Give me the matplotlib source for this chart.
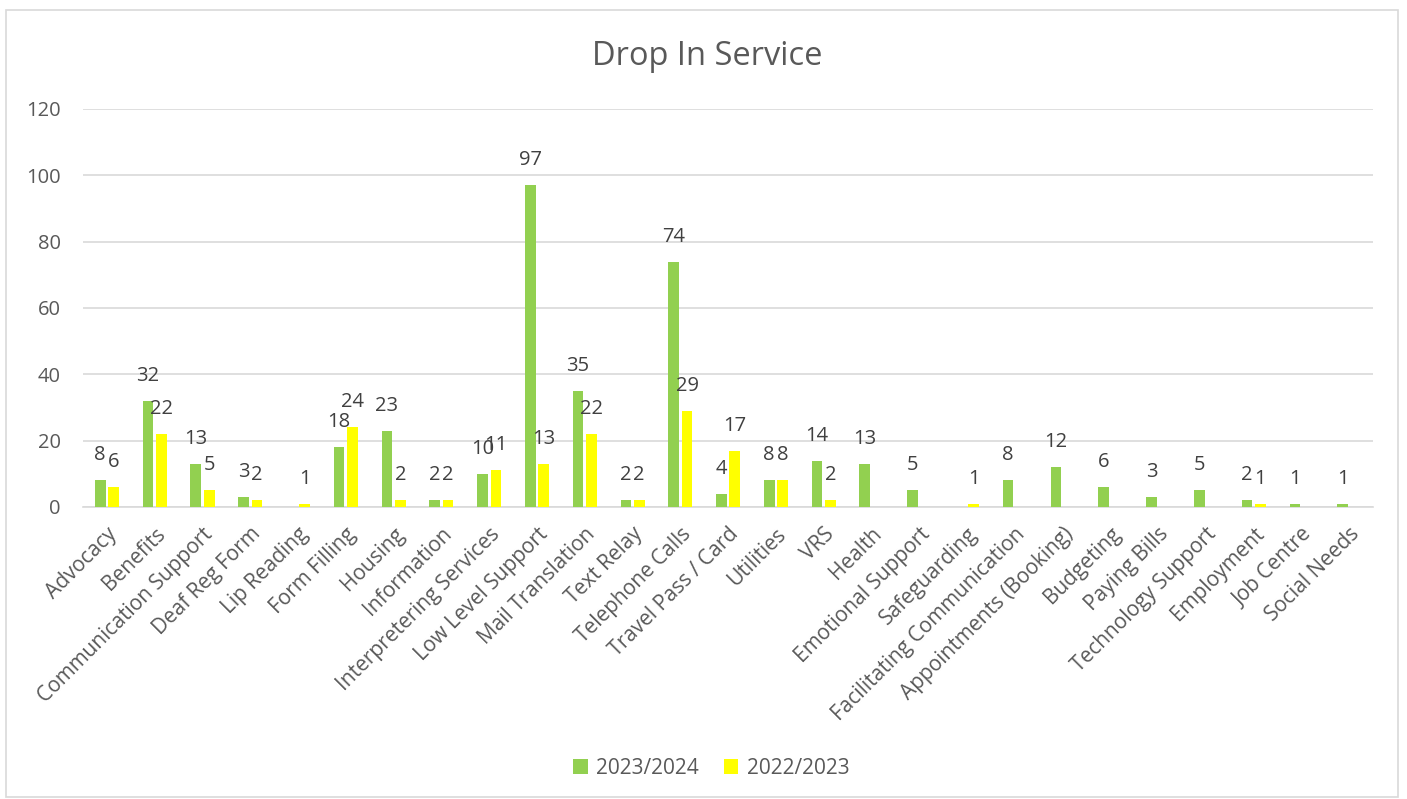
import numpy as np
import matplotlib
matplotlib.use("Agg")
import matplotlib.pyplot as plt
from matplotlib.patches import Rectangle

categories = [
    "Advocacy", "Benefits", "Communication Support", "Deaf Reg Form", "Lip Reading",
    "Form Filling", "Housing", "Information", "Interpretering Services",
    "Low Level Support", "Mail Translation", "Text Relay", "Telephone Calls",
    "Travel Pass / Card", "Utilities", "VRS", "Health", "Emotional Support",
    "Safeguarding", "Facilitating Communication", "Appointments (Booking)",
    "Budgeting", "Paying Bills", "Technology Support", "Employment",
    "Job Centre", "Social Needs",
]
nan = np.nan
values_2324 = [8, 32, 13, 3, nan, 18, 23, 2, 10, 97, 35, 2, 74, 4, 8, 14, 13, 5,
               nan, 8, 12, 6, 3, 5, 2, 1, 1]
values_2223 = [6, 22, 5, 2, 1, 24, 2, 2, 11, 13, 22, 2, 29, 17, 8, 2, nan, nan,
               1, nan, nan, nan, nan, nan, 1, nan, nan]
series_names = ["2023/2024", "2022/2023"]
series_colors = ["#92D050", "#FFFF00"]
y_ticks = [0, 20, 40, 60, 80, 100, 120]

FONT = ["Open Sans", "DejaVu Sans"]
plt.rcParams["font.family"] = FONT

fig = plt.figure(figsize=(14.07, 7.99), dpi=100)
ax = fig.add_axes([0.059, 0.3655, 0.917, 0.4981])

# light border around the whole chart
fig.patches.append(Rectangle((0.0043, 0.002), 0.9893, 0.985, transform=fig.transFigure,
                             fill=False, edgecolor="#D9D9D9", linewidth=1.2))

x = np.arange(len(categories))
width = 0.224
offsets = [-0.14, 0.14]

for vals, off, color, name in zip([values_2324, values_2223], offsets, series_colors, series_names):
    v = np.array(vals, dtype=float)
    bars = ax.bar(x + off, np.nan_to_num(v), width=width, color=color, label=name, zorder=3)
    for xi, val in zip(x + off, v):
        if np.isnan(val):
            continue
        ax.annotate(f"{int(val)}", xy=(xi, val), xytext=(0, 18), textcoords="offset points",
                    ha="center", va="center", fontsize=14.5, color="#404040", zorder=4)
    # hide bars for missing values
    for b, val in zip(bars, v):
        if np.isnan(val):
            b.set_visible(False)

ax.set_xlim(-0.5, len(categories) - 0.5)
ax.set_ylim(0, 120)
ax.set_yticks(y_ticks)
ax.yaxis.grid(True, color="#D9D9D9", linewidth=1.2, zorder=0)
ax.set_axisbelow(True)
for s in ["top", "right", "left"]:
    ax.spines[s].set_visible(False)
ax.spines["bottom"].set_color("#D9D9D9")
ax.spines["bottom"].set_linewidth(1.2)
ax.tick_params(axis="y", length=0, labelsize=14.5, labelcolor="#595959", pad=16)
ax.tick_params(axis="x", length=0, labelsize=15, labelcolor="#595959", pad=12)
ax.set_xticks(x)
ax.set_xticklabels(categories, rotation=45, ha="right", rotation_mode="anchor")

fig.text(0.5027, 0.929, "Drop In Service", ha="center", va="center", fontsize=23.5, color="#595959")

ax.legend(loc="center", bbox_to_anchor=(0.487, -0.656), ncol=2, frameon=False,
          fontsize=15, handlelength=0.7, handleheight=0.7, handletextpad=0.4,
          columnspacing=1.2, labelcolor="#595959")

fig.savefig("out.png", dpi=100)
